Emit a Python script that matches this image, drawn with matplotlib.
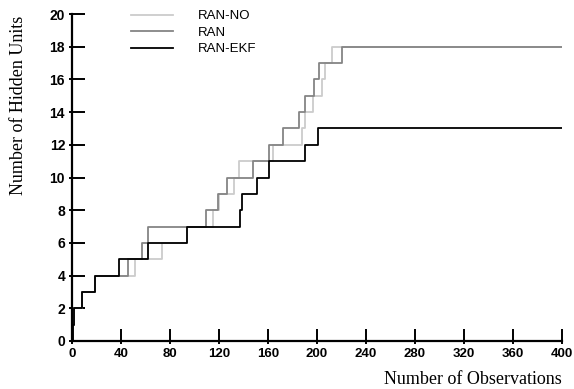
import matplotlib
matplotlib.use("Agg")
import matplotlib.pyplot as plt

# Data (step change points, 'post' steps)
ran_no_x = [0, 0.5, 2, 8.5, 19, 51.4, 73.7, 94, 115.4, 120, 132.5, 136.6, 164.4, 188, 190, 197, 204, 206.3, 212.5, 400]
ran_no_y = [0, 1, 2, 3, 4, 5, 6, 7, 8, 9, 10, 11, 12, 13, 14, 15, 16, 17, 18, 18]

ran_x = [0, 0.5, 2, 8.5, 19, 45.4, 57.4, 61.8, 109.4, 119.5, 126.3, 147.5, 160.5, 172.5, 185.5, 190.5, 197.5, 201.5, 220, 400]
ran_y = [0, 1, 2, 3, 4, 5, 6, 7, 8, 9, 10, 11, 12, 13, 14, 15, 16, 17, 18, 18]

ekf_x = [0, 0.5, 2, 8.5, 19, 38.5, 61.8, 94, 137, 138.5, 151, 161, 190.2, 200.8, 400]
ekf_y = [0, 1, 2, 3, 4, 5, 6, 7, 8, 9, 10, 11, 12, 13, 13]

xticks = [0, 40, 80, 120, 160, 200, 240, 280, 320, 360, 400]
yticks = [0, 2, 4, 6, 8, 10, 12, 14, 16, 18, 20]

W, H = 574, 389
fig = plt.figure(figsize=(W / 100, H / 100), dpi=100)
ax = fig.add_axes([72 / W, (H - 341) / H, (562 - 72) / W, (341 - 14) / H])

ax.step(ran_no_x, ran_no_y, where='post', color='#cccccc', lw=1.3, label='RAN-NO')
ax.step(ran_x, ran_y, where='post', color='#858585', lw=1.3, label='RAN')
ax.step(ekf_x, ekf_y, where='post', color='#000000', lw=1.3, label='RAN-EKF')

ax.set_xlim(0, 400)
ax.set_ylim(0, 20)
for s in ['top', 'right']:
    ax.spines[s].set_visible(False)
for s in ['left', 'bottom']:
    ax.spines[s].set_linewidth(1.6)

ax.set_xticks(xticks)
ax.set_yticks(yticks)
ax.set_xticks(xticks, minor=True)
ax.set_yticks(yticks, minor=True)
ax.xaxis.remove_overlapping_locs = False
ax.yaxis.remove_overlapping_locs = False
ax.tick_params(which='major', direction='in', length=9, width=1.4)
ax.tick_params(which='minor', direction='out', length=2.5, width=1.4)
ax.set_xticklabels([str(v) for v in xticks], fontweight='bold', fontsize=9.5, family='Liberation Sans')
ax.set_yticklabels([str(v) for v in yticks], fontweight='bold', fontsize=10, family='Liberation Sans')
ax.tick_params(axis='x', which='major', pad=5)
ax.tick_params(axis='y', which='major', pad=5)

fig.text(562 / W, (H - 380) / H, 'Number of Observations', ha='right', va='center',
         family='Liberation Serif', fontsize=13)
fig.text(19 / W, (H - 105) / H, 'Number of Hidden Units', ha='center', va='center',
         rotation=90, family='Liberation Serif', fontsize=13)

leg = ax.legend(loc='upper left', bbox_to_anchor=(131 / W, (H - 10) / H),
                bbox_transform=fig.transFigure, frameon=False,
                prop={'family': 'Liberation Sans', 'size': 9.5},
                handlelength=3.2, handletextpad=1.9, labelspacing=0.32,
                borderpad=0, borderaxespad=0)

fig.savefig('out.png', dpi=100)
